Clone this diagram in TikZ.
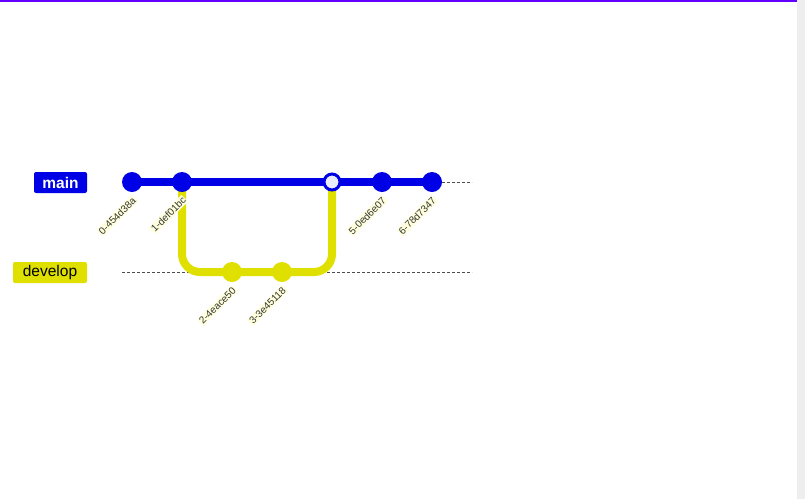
\documentclass[tikz,border=0pt]{standalone}
\usepackage{fontspec}
\setmainfont{Liberation Sans}
\definecolor{mainblue}{RGB}{0,0,230}
\definecolor{devyellow}{RGB}{224,224,0}
\definecolor{lblbg}{RGB}{255,255,222}
\definecolor{mergefill}{RGB}{236,236,255}
\definecolor{topline}{RGB}{100,0,255}
\definecolor{scrollgray}{RGB}{238,238,238}
\tikzset{
  commitdot/.style={circle,inner sep=0pt,minimum size=20pt},
  maindot/.style={commitdot,fill=mainblue},
  devdot/.style={commitdot,fill=devyellow},
  mergedot/.style={circle,inner sep=0pt,minimum size=16pt,fill=mergefill,draw=mainblue,line width=3pt},
  commitlabel/.style={rotate=45,anchor=east,fill=lblbg,inner sep=1pt,font=\fontsize{10}{11}\selectfont,text=black!80},
  branchlabel/.style={rounded corners=2pt,minimum height=21pt,inner sep=0pt,font=\fontsize{15.5}{17}\selectfont},
  guide/.style={densely dashed,line width=0.5pt,black!70},
  mainline/.style={line width=8pt,mainblue},
  devline/.style={line width=8pt,devyellow,rounded corners=18pt}
}
\begin{document}
\begin{tikzpicture}[x=1pt,y=-1pt]
\useasboundingbox (0,0) rectangle (805,499);
\fill[white] (0,0) rectangle (805,499);
\fill[scrollgray] (797,0) rectangle (805,499);
\fill[topline] (0,0) rectangle (797,2);
% guides
\coordinate (gm0) at (122,182);
\coordinate (gm1) at (472,182);
\coordinate (gd0) at (122,272);
\coordinate (gd1) at (472,272);
\draw[guide] (gm0) -- (gm1);
\draw[guide] (gd0) -- (gd1);
% branch labels
\node[branchlabel,fill=mainblue,text=white,minimum width=53pt] (lmain) at (60.5,182.5) {\textbf{main}};
\node[branchlabel,fill=devyellow,text=black,minimum width=74pt] (ldev) at (50,272.5) {develop};
% commit positions
\coordinate (p0) at (132,182);
\coordinate (p1) at (182,182);
\coordinate (p2) at (232,272);
\coordinate (p3) at (282,272);
\coordinate (p4) at (332,182);
\coordinate (p5) at (382,182);
\coordinate (p6) at (432,182);
\coordinate (k1) at (182,272);
\coordinate (k2) at (332,272);
% lines
\draw[devline] (p1) -- (k1) -- (k2) -- (p4);
\draw[mainline] (p0) -- (p6);
% commits
\node[maindot] (c0) at (p0) {};
\node[maindot] (c1) at (p1) {};
\node[devdot] (c2) at (p2) {};
\node[devdot] (c3) at (p3) {};
\node[mergedot] (c4) at (p4) {};
\node[maindot] (c5) at (p5) {};
\node[maindot] (c6) at (p6) {};
% commit labels
\node[commitlabel] (t0) at (135,198) {0-454d38a};
\node[commitlabel] (t1) at (185,198) {1-def01bc};
\node[commitlabel] (t2) at (235,288) {2-4eace50};
\node[commitlabel] (t3) at (285,288) {3-3e45118};
\node[commitlabel] (t5) at (385,198) {5-0ed6e07};
\node[commitlabel] (t6) at (435,198) {6-78d7347};
\end{tikzpicture}
\end{document}
